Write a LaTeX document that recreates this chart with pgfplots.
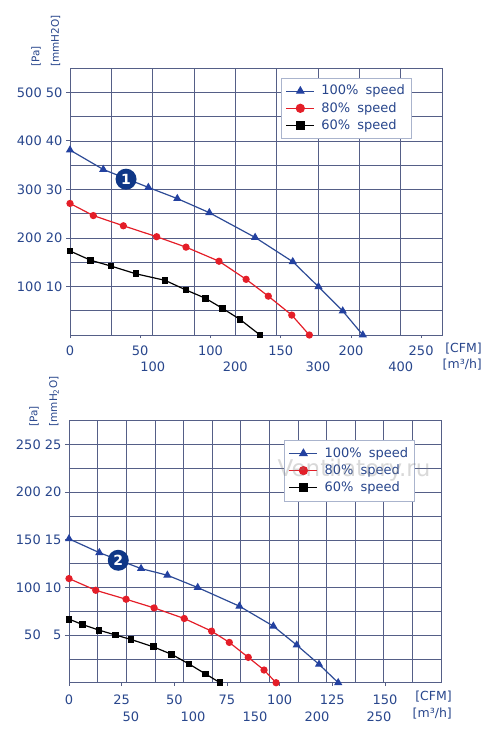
\documentclass[border=0pt]{standalone}
\usepackage{pgfplots}
\pgfplotsset{compat=1.18}
\usepackage{fontspec}
\setmainfont{DejaVu Sans}
\definecolor{txtblue}{RGB}{40,70,140}
\definecolor{lineblue}{RGB}{45,75,150}
\definecolor{mkblue}{RGB}{35,65,160}
\definecolor{myred}{RGB}{228,30,40}
\definecolor{gridc}{RGB}{85,95,135}
\definecolor{legc}{RGB}{170,180,205}
\definecolor{navy}{RGB}{15,55,135}
\tikzset{num/.style={circle, fill=navy, text=white, minimum size=21pt, inner sep=0pt, font=\bfseries\fontsize{14}{14}\selectfont},
  ulab/.style={rotate=90, anchor=west, inner sep=0pt, text=txtblue, font=\fontsize{10.5}{12}\selectfont},
  xlab/.style={anchor=east, inner sep=0pt, text=txtblue, font=\fontsize{12.5}{14}\selectfont}}
\pgfplotsset{
  base/.style={scale only axis, width=372pt, anchor=south west, ymin=0, clip=false,
    /pgf/number format/assume math mode=true,
    tick label style={font=\fontsize{13}{15}\selectfont, text=txtblue}},
  gridaxis/.style={base, axis line style={draw=gridc, line width=0.7pt},
    xminorgrids=true, yminorgrids=true, minor grid style={draw=gridc, line width=0.55pt},
    minor tick length=0pt, tick align=outside, xtick pos=left, ytick pos=left,
    major tick length=4pt, major x tick style={draw=none},
    major y tick style={draw=gridc, line width=0.7pt},
    xticklabel style={anchor=base}},
  dataaxis/.style={base, hide y axis, ytick=\empty, axis line style={draw=none},
    xtick pos=left, tick align=outside, major tick length=3pt,
    major x tick style={draw=gridc, line width=0.7pt},
    xticklabel style={anchor=base},
    legend cell align=left,
    legend image code/.code={\draw[mark repeat=2,mark phase=2,##1] plot coordinates {(0pt,0pt) (14pt,0pt) (28pt,0pt)};},
    legend image post style={mark size=4pt},
    legend style={anchor=north west, draw=legc, line width=0.6pt, fill=white,
      font=\fontsize{13}{15}\selectfont, text=txtblue, inner xsep=4.5pt, inner ysep=4.5pt,
      row sep=0pt, column sep=5pt, nodes={inner sep=1.5pt, text height=10.8pt, text depth=3.4pt}}},
  s100/.style={lineblue, line width=1.2pt, mark=triangle*, mark size=3.6pt, mark options={fill=mkblue, draw=mkblue, solid}},
  s80/.style={myred, line width=1.2pt, mark=*, mark size=3pt, mark options={fill=myred, draw=myred, solid}},
  s60/.style={black, line width=1.2pt, mark=square*, mark size=2.8pt, mark options={fill=black, draw=black, solid}}
}
\begin{document}
\begin{tikzpicture}
\useasboundingbox (0pt,0pt) rectangle (500pt,-739pt);
% ================= TOP CHART =================
\begin{axis}[gridaxis, at={(70pt,-335pt)}, height=267pt,
  xmin=0, xmax=450, ymax=550,
  xtick={100,200,300,400}, xticklabels={100,200,300,400},
  minor xtick={50,100,...,400},
  ytick={100,200,300,400,500}, yticklabels={100 10,200 20,300 30,400 40,500 50},
  minor ytick={50,100,...,500},
  xticklabel style={yshift=-32pt}]
\end{axis}
\begin{axis}[dataaxis, at={(70pt,-335pt)}, height=267pt,
  xmin=0, xmax=264.86, ymax=550,
  xtick={0,50,100,150,200,250},
  xticklabel style={yshift=-17pt},
  legend style={at={(0.567,0.9637)}}]
\addplot[s100] coordinates {(0,381) (23.7,341) (55.8,304) (76.4,281) (99.2,252) (131.8,201) (158.6,151) (176.9,99.5) (194.2,49.4) (208.5,0)};
\addlegendentry{100\%\hspace{0.55em}speed}
\addplot[s80] coordinates {(0,271) (16.6,246) (38,225) (61.7,202.5) (82.6,181) (106.1,152) (125.4,114.7) (141.2,80) (157.9,41) (170.4,0)};
\addlegendentry{80\%\hspace{0.55em}speed}
\addplot[s60] coordinates {(0,173) (14.7,154) (29.2,142) (47,126) (67.7,112.6) (82.6,92.7) (96.2,76) (108.5,55) (121.1,32) (135.3,0)};
\addlegendentry{60\%\hspace{0.55em}speed}
\node[num] at (axis cs:39.9,321) {1};
\end{axis}
\node[ulab] at (36pt,-67pt) {[Pa]};
\node[ulab] at (55.5pt,-67pt) {[mmH2O]};
\node[xlab] at (482pt,-349pt) {[CFM]};
\node[xlab] at (482pt,-365pt) {[m³/h]};
% ================= BOTTOM CHART =================
\begin{axis}[gridaxis, at={(69pt,-682.7pt)}, height=262pt,
  xmin=0, xmax=300, ymax=275,
  xtick={50,100,150,200,250}, xticklabels={50,100,150,200,250},
  minor xtick={23.077,46.154,69.231,92.308,115.385,138.462,161.538,184.615,207.692,230.769,253.846,276.923},
  ytick={50,100,150,200,250}, yticklabels={50 \hphantom{0}5,100 10,150 15,200 20,250 25},
  minor ytick={25,50,...,250},
  xticklabel style={yshift=-35pt}]
\end{axis}
\begin{axis}[dataaxis, at={(69pt,-682.7pt)}, height=262pt,
  xmin=0, xmax=176.6, ymax=275,
  xtick={0,25,50,75,100,125,150},
  xticklabel style={yshift=-18.5pt},
  legend style={at={(0.578,0.9263)}}]
\addplot[s100] coordinates {(0,151) (14.4,136.5) (34.2,119.8) (46.7,112.8) (61.1,99.9) (80.9,80.3) (97.0,59.4) (108.1,39.5) (118.7,19.3) (127.8,0)};
\addlegendentry{100\%\hspace{0.55em}speed}
\addplot[s80] coordinates {(0,109.3) (12.7,97) (27.1,87.6) (40.4,78.5) (54.7,67.4) (67.7,54.1) (76.1,42.3) (85.1,26.6) (92.6,13.3) (98.3,0)};
\addlegendentry{80\%\hspace{0.55em}speed}
\addplot[s60] coordinates {(0,66.7) (6.5,61) (14.2,55.2) (22.2,50) (29.4,45.4) (40.0,37.7) (48.8,29.7) (57.0,19.6) (64.9,9.1) (71.7,0)};
\addlegendentry{60\%\hspace{0.55em}speed}
\node[num] at (axis cs:23.4,128.5) {2};
\end{axis}
\node[ulab] at (34pt,-426.7pt) {[Pa]};
\node[ulab] at (54pt,-426.7pt) {[mmH\textsubscript{2}O]};
\node[xlab] at (452pt,-697pt) {[CFM]};
\node[xlab] at (452pt,-714pt) {[m³/h]};
\node[text=gray, opacity=0.3, font=\fontsize{23}{26}\selectfont] at (354pt,-470pt) {Ventilatory.ru};
\end{tikzpicture}
\end{document}
